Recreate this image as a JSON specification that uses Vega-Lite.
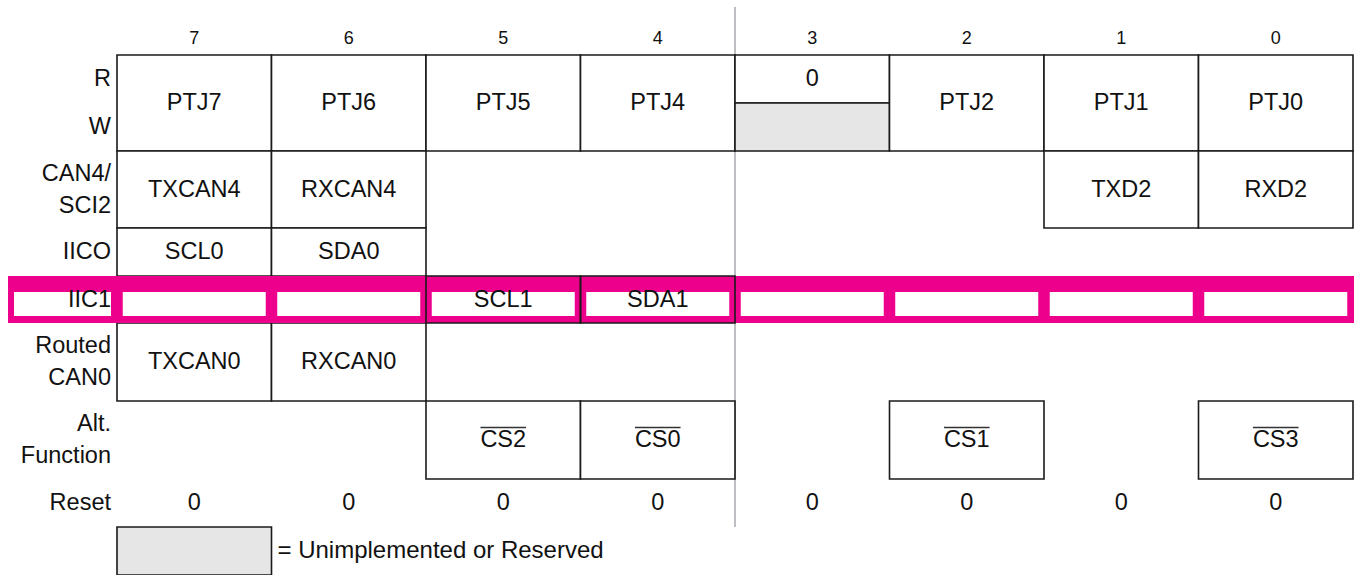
{
  "$schema": "https://vega.github.io/schema/vega-lite/v6.json",
  "width": 1354,
  "height": 575,
  "padding": 0,
  "autosize": {"type": "none"},
  "background": "white",
  "config": {"view": {"stroke": null}, "text": {"font": "Liberation Sans", "color": "#111111"}},
  "layer": [
    {
      "data": {"values": [{"name": "nibble divider"}]},
      "mark": {"type": "rule", "color": "#a9a9ae", "strokeWidth": 1.5},
      "encoding": {
        "x": {"datum": 3.5, "type": "quantitative", "scale": {"domain": [7, 0], "range": [194.25, 1275.75], "zero": false, "nice": false}, "axis": null},
        "y": {"datum": -1, "type": "quantitative", "scale": {"domain": [-1, 0, 1, 2, 3, 4, 5, 6, 7, 8, 9, 10], "range": [7, 23, 55, 103, 151, 228, 276, 323, 401, 479, 527, 575], "zero": false, "nice": false}, "axis": null},
        "y2": {"datum": 9}
      }
    },
    {
      "data": {"values": [
        {"reg": "R/W", "hi": 7, "lo": 7, "top": 1, "bot": 3, "kind": "field"},
        {"reg": "R/W", "hi": 6, "lo": 6, "top": 1, "bot": 3, "kind": "field"},
        {"reg": "R/W", "hi": 5, "lo": 5, "top": 1, "bot": 3, "kind": "field"},
        {"reg": "R/W", "hi": 4, "lo": 4, "top": 1, "bot": 3, "kind": "field"},
        {"reg": "R", "hi": 3, "lo": 3, "top": 1, "bot": 2, "kind": "field"},
        {"reg": "W", "hi": 3, "lo": 3, "top": 2, "bot": 3, "kind": "reserved"},
        {"reg": "R/W", "hi": 2, "lo": 2, "top": 1, "bot": 3, "kind": "field"},
        {"reg": "R/W", "hi": 1, "lo": 1, "top": 1, "bot": 3, "kind": "field"},
        {"reg": "R/W", "hi": 0, "lo": 0, "top": 1, "bot": 3, "kind": "field"},
        {"reg": "CAN4/SCI2", "hi": 7, "lo": 7, "top": 3, "bot": 4, "kind": "field"},
        {"reg": "CAN4/SCI2", "hi": 6, "lo": 6, "top": 3, "bot": 4, "kind": "field"},
        {"reg": "CAN4/SCI2", "hi": 1, "lo": 1, "top": 3, "bot": 4, "kind": "field"},
        {"reg": "CAN4/SCI2", "hi": 0, "lo": 0, "top": 3, "bot": 4, "kind": "field"},
        {"reg": "IICO", "hi": 7, "lo": 7, "top": 4, "bot": 5, "kind": "field"},
        {"reg": "IICO", "hi": 6, "lo": 6, "top": 4, "bot": 5, "kind": "field"},
        {"reg": "Routed CAN0", "hi": 7, "lo": 7, "top": 6, "bot": 7, "kind": "field"},
        {"reg": "Routed CAN0", "hi": 6, "lo": 6, "top": 6, "bot": 7, "kind": "field"},
        {"reg": "Alt. Function", "hi": 5, "lo": 5, "top": 7, "bot": 8, "kind": "field"},
        {"reg": "Alt. Function", "hi": 4, "lo": 4, "top": 7, "bot": 8, "kind": "field"},
        {"reg": "Alt. Function", "hi": 2, "lo": 2, "top": 7, "bot": 8, "kind": "field"},
        {"reg": "Alt. Function", "hi": 0, "lo": 0, "top": 7, "bot": 8, "kind": "field"},
        {"reg": "Legend", "hi": 7, "lo": 7, "top": 9, "bot": 10, "kind": "reserved"}
      ]},
      "mark": {"type": "rect", "stroke": "#1a1a1a", "strokeWidth": 1.6, "xOffset": -77.25, "x2Offset": 77.25},
      "encoding": {
        "x": {"field": "hi", "type": "quantitative", "scale": {"domain": [7, 0], "range": [194.25, 1275.75], "zero": false, "nice": false}, "axis": null},
        "x2": {"field": "lo"},
        "y": {"field": "top", "type": "quantitative", "scale": {"domain": [-1, 0, 1, 2, 3, 4, 5, 6, 7, 8, 9, 10], "range": [7, 23, 55, 103, 151, 228, 276, 323, 401, 479, 527, 575], "zero": false, "nice": false}, "axis": null},
        "y2": {"field": "bot"},
        "fill": {"field": "kind", "type": "nominal", "scale": {"domain": ["field", "reserved"], "range": ["#ffffff", "#e6e6e6"]}, "legend": null}
      }
    },
    {
      "data": {"values": [{"reg": "IIC1"}]},
      "mark": {"type": "rect", "fill": "#ec008c"},
      "encoding": {
        "x": {"datum": 8.2055, "type": "quantitative", "scale": {"domain": [7, 0], "range": [194.25, 1275.75], "zero": false, "nice": false}, "axis": null},
        "x2": {"datum": -0.51},
        "y": {"datum": 5, "type": "quantitative", "scale": {"domain": [-1, 0, 1, 2, 3, 4, 5, 6, 7, 8, 9, 10], "range": [7, 23, 55, 103, 151, 228, 276, 323, 401, 479, 527, 575], "zero": false, "nice": false}, "axis": null},
        "y2": {"datum": 6}
      }
    },
    {
      "data": {"values": [{"reg": "IIC1"}]},
      "mark": {"type": "rect", "fill": "#ffffff", "xOffset": 6, "x2Offset": -6, "yOffset": 16, "y2Offset": -7},
      "encoding": {
        "x": {"datum": 8.2055, "type": "quantitative", "scale": {"domain": [7, 0], "range": [194.25, 1275.75], "zero": false, "nice": false}, "axis": null},
        "x2": {"datum": 7.5},
        "y": {"datum": 5, "type": "quantitative", "scale": {"domain": [-1, 0, 1, 2, 3, 4, 5, 6, 7, 8, 9, 10], "range": [7, 23, 55, 103, 151, 228, 276, 323, 401, 479, 527, 575], "zero": false, "nice": false}, "axis": null},
        "y2": {"datum": 6}
      }
    },
    {
      "data": {"values": [
        {"reg": "IIC1", "hi": 7, "lo": 7, "top": 5, "bot": 6},
        {"reg": "IIC1", "hi": 6, "lo": 6, "top": 5, "bot": 6},
        {"reg": "IIC1", "hi": 5, "lo": 5, "top": 5, "bot": 6},
        {"reg": "IIC1", "hi": 4, "lo": 4, "top": 5, "bot": 6},
        {"reg": "IIC1", "hi": 3, "lo": 3, "top": 5, "bot": 6},
        {"reg": "IIC1", "hi": 2, "lo": 2, "top": 5, "bot": 6},
        {"reg": "IIC1", "hi": 1, "lo": 1, "top": 5, "bot": 6},
        {"reg": "IIC1", "hi": 0, "lo": 0, "top": 5, "bot": 6}
      ]},
      "mark": {"type": "rect", "fill": "#ffffff", "xOffset": -71.5, "x2Offset": 71.5, "yOffset": 16, "y2Offset": -7},
      "encoding": {
        "x": {"field": "hi", "type": "quantitative", "scale": {"domain": [7, 0], "range": [194.25, 1275.75], "zero": false, "nice": false}, "axis": null},
        "x2": {"field": "lo"},
        "y": {"field": "top", "type": "quantitative", "scale": {"domain": [-1, 0, 1, 2, 3, 4, 5, 6, 7, 8, 9, 10], "range": [7, 23, 55, 103, 151, 228, 276, 323, 401, 479, 527, 575], "zero": false, "nice": false}, "axis": null},
        "y2": {"field": "bot"}
      }
    },
    {
      "data": {"values": [
        {"reg": "IIC1", "hi": 5, "lo": 5, "top": 5, "bot": 6},
        {"reg": "IIC1", "hi": 4, "lo": 4, "top": 5, "bot": 6}
      ]},
      "mark": {"type": "rect", "fillOpacity": 0, "fill": "#ffffff", "stroke": "#1a1a1a", "strokeWidth": 1.6, "xOffset": -77.25, "x2Offset": 77.25},
      "encoding": {
        "x": {"field": "hi", "type": "quantitative", "scale": {"domain": [7, 0], "range": [194.25, 1275.75], "zero": false, "nice": false}, "axis": null},
        "x2": {"field": "lo"},
        "y": {"field": "top", "type": "quantitative", "scale": {"domain": [-1, 0, 1, 2, 3, 4, 5, 6, 7, 8, 9, 10], "range": [7, 23, 55, 103, 151, 228, 276, 323, 401, 479, 527, 575], "zero": false, "nice": false}, "axis": null},
        "y2": {"field": "bot"}
      }
    },
    {
      "data": {"values": [
        {"sig": "PTJ7", "bit": 7, "line": 2},
        {"sig": "PTJ6", "bit": 6, "line": 2},
        {"sig": "PTJ5", "bit": 5, "line": 2},
        {"sig": "PTJ4", "bit": 4, "line": 2},
        {"sig": "0", "bit": 3, "line": 1.5},
        {"sig": "PTJ2", "bit": 2, "line": 2},
        {"sig": "PTJ1", "bit": 1, "line": 2},
        {"sig": "PTJ0", "bit": 0, "line": 2},
        {"sig": "TXCAN4", "bit": 7, "line": 3.5},
        {"sig": "RXCAN4", "bit": 6, "line": 3.5},
        {"sig": "TXD2", "bit": 1, "line": 3.5},
        {"sig": "RXD2", "bit": 0, "line": 3.5},
        {"sig": "SCL0", "bit": 7, "line": 4.5},
        {"sig": "SDA0", "bit": 6, "line": 4.5},
        {"sig": "SCL1", "bit": 5, "line": 5.5},
        {"sig": "SDA1", "bit": 4, "line": 5.5},
        {"sig": "TXCAN0", "bit": 7, "line": 6.5},
        {"sig": "RXCAN0", "bit": 6, "line": 6.5},
        {"sig": "CS2", "bit": 5, "line": 7.5},
        {"sig": "CS0", "bit": 4, "line": 7.5},
        {"sig": "CS1", "bit": 2, "line": 7.5},
        {"sig": "CS3", "bit": 0, "line": 7.5},
        {"sig": "0", "bit": 7, "line": 8.5},
        {"sig": "0", "bit": 6, "line": 8.5},
        {"sig": "0", "bit": 5, "line": 8.5},
        {"sig": "0", "bit": 4, "line": 8.5},
        {"sig": "0", "bit": 3, "line": 8.5},
        {"sig": "0", "bit": 2, "line": 8.5},
        {"sig": "0", "bit": 1, "line": 8.5},
        {"sig": "0", "bit": 0, "line": 8.5}
      ]},
      "mark": {"type": "text", "fontSize": 23.5, "align": "center", "baseline": "middle"},
      "encoding": {
        "x": {"field": "bit", "type": "quantitative", "scale": {"domain": [7, 0], "range": [194.25, 1275.75], "zero": false, "nice": false}, "axis": null},
        "y": {"field": "line", "type": "quantitative", "scale": {"domain": [-1, 0, 1, 2, 3, 4, 5, 6, 7, 8, 9, 10], "range": [7, 23, 55, 103, 151, 228, 276, 323, 401, 479, 527, 575], "zero": false, "nice": false}, "axis": null},
        "text": {"field": "sig", "type": "nominal"}
      }
    },
    {
      "data": {"values": [
        {"sig": "CS2", "bit": 5, "line": 7.5},
        {"sig": "CS0", "bit": 4, "line": 7.5},
        {"sig": "CS1", "bit": 2, "line": 7.5},
        {"sig": "CS3", "bit": 0, "line": 7.5}
      ]},
      "mark": {"type": "rule", "color": "#333333", "strokeWidth": 1.3, "xOffset": -22.8, "x2Offset": 22.8, "yOffset": -12.5, "y2Offset": -12.5},
      "encoding": {
        "x": {"field": "bit", "type": "quantitative", "scale": {"domain": [7, 0], "range": [194.25, 1275.75], "zero": false, "nice": false}, "axis": null},
        "x2": {"field": "bit"},
        "y": {"field": "line", "type": "quantitative", "scale": {"domain": [-1, 0, 1, 2, 3, 4, 5, 6, 7, 8, 9, 10], "range": [7, 23, 55, 103, 151, 228, 276, 323, 401, 479, 527, 575], "zero": false, "nice": false}, "axis": null},
        "y2": {"field": "line"}
      }
    },
    {
      "data": {"values": [
        {"bit": 7, "line": 0.5}, {"bit": 6, "line": 0.5}, {"bit": 5, "line": 0.5}, {"bit": 4, "line": 0.5},
        {"bit": 3, "line": 0.5}, {"bit": 2, "line": 0.5}, {"bit": 1, "line": 0.5}, {"bit": 0, "line": 0.5}
      ]},
      "mark": {"type": "text", "fontSize": 18, "align": "center", "baseline": "middle"},
      "encoding": {
        "x": {"field": "bit", "type": "quantitative", "scale": {"domain": [7, 0], "range": [194.25, 1275.75], "zero": false, "nice": false}, "axis": null},
        "y": {"field": "line", "type": "quantitative", "scale": {"domain": [-1, 0, 1, 2, 3, 4, 5, 6, 7, 8, 9, 10], "range": [7, 23, 55, 103, 151, 228, 276, 323, 401, 479, 527, 575], "zero": false, "nice": false}, "axis": null},
        "text": {"field": "bit", "type": "nominal"}
      }
    },
    {
      "data": {"values": [
        {"label": "R", "line": 1.5},
        {"label": "W", "line": 2.5},
        {"label": "IICO", "line": 4.5},
        {"label": "IIC1", "line": 5.5},
        {"label": "Reset", "line": 8.5}
      ]},
      "mark": {"type": "text", "fontSize": 23.5, "align": "right", "baseline": "middle", "dx": -6},
      "encoding": {
        "x": {"datum": 7.5, "type": "quantitative", "scale": {"domain": [7, 0], "range": [194.25, 1275.75], "zero": false, "nice": false}, "axis": null},
        "y": {"field": "line", "type": "quantitative", "scale": {"domain": [-1, 0, 1, 2, 3, 4, 5, 6, 7, 8, 9, 10], "range": [7, 23, 55, 103, 151, 228, 276, 323, 401, 479, 527, 575], "zero": false, "nice": false}, "axis": null},
        "text": {"field": "label", "type": "nominal"}
      }
    },
    {
      "data": {"values": [
        {"label": "CAN4/\nSCI2", "line": 3.5},
        {"label": "Routed\nCAN0", "line": 6.5},
        {"label": "Alt.\nFunction", "line": 7.5}
      ]},
      "mark": {"type": "text", "fontSize": 23.5, "align": "right", "baseline": "middle", "dx": -6, "dy": -16, "lineBreak": "\n", "lineHeight": 32},
      "encoding": {
        "x": {"datum": 7.5, "type": "quantitative", "scale": {"domain": [7, 0], "range": [194.25, 1275.75], "zero": false, "nice": false}, "axis": null},
        "y": {"field": "line", "type": "quantitative", "scale": {"domain": [-1, 0, 1, 2, 3, 4, 5, 6, 7, 8, 9, 10], "range": [7, 23, 55, 103, 151, 228, 276, 323, 401, 479, 527, 575], "zero": false, "nice": false}, "axis": null},
        "text": {"field": "label", "type": "nominal"}
      }
    },
    {
      "data": {"values": [{"label": "= Unimplemented or Reserved", "line": 9.5}]},
      "mark": {"type": "text", "fontSize": 24, "align": "left", "baseline": "middle", "dx": 6},
      "encoding": {
        "x": {"datum": 6.5, "type": "quantitative", "scale": {"domain": [7, 0], "range": [194.25, 1275.75], "zero": false, "nice": false}, "axis": null},
        "y": {"field": "line", "type": "quantitative", "scale": {"domain": [-1, 0, 1, 2, 3, 4, 5, 6, 7, 8, 9, 10], "range": [7, 23, 55, 103, 151, 228, 276, 323, 401, 479, 527, 575], "zero": false, "nice": false}, "axis": null},
        "text": {"field": "label", "type": "nominal"}
      }
    }
  ]
}
